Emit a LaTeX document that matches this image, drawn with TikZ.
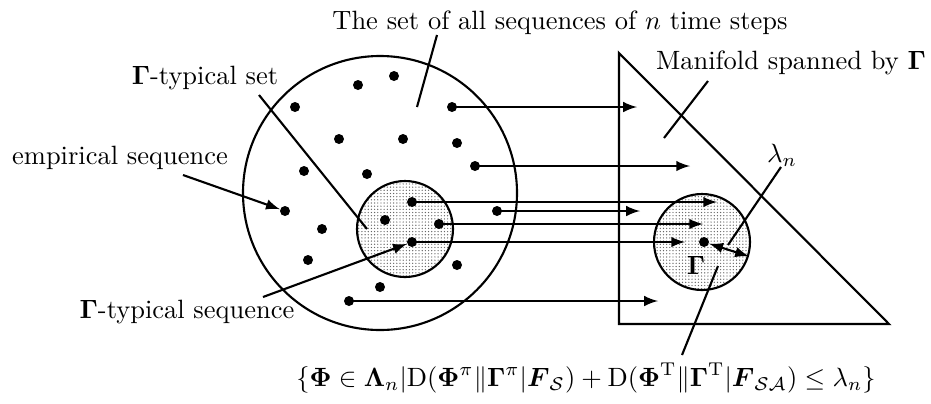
\documentclass[tikz,border=0pt]{standalone}
\usepackage{amsmath}
\usepackage{amssymb}
\usetikzlibrary{arrows, patterns.meta}
\def\px{0.378pt}
\tikzdeclarepattern{
    name=fineDots,
    type=uncolored,
    bounding box={(-0.6pt,-0.6pt) and (0.6pt,0.6pt)},
    tile size={(1.2pt,1.2pt)},
    code={\fill (0pt,0pt) circle (0.26pt);}
}
\tikzset{
    seqDot/.style={circle, fill=black, inner sep=0pt, minimum size=10*\px},
    seqSet/.style={circle, draw, thick, inner sep=0pt},
    typSet/.style={seqSet, pattern=fineDots, pattern color=black!60},
    setLabel/.style={inner sep=1pt, align=center},
    % Arrows
    mapArrow/.style={->, thick, >=latex},
    pointer/.style={thick}
}

\begin{document}
\begin{tikzpicture}[x=\px, y=-\px]
\useasboundingbox (0,0) rectangle (931,403);

% sets
\node[seqSet, minimum size=274*\px] (allSet) at (380,193) {};
\node[typSet, minimum size=96*\px] (typSetL) at (405,229) {};
\coordinate (mTop) at (619,53);
\coordinate (mLeft) at (619,324);
\coordinate (mRight) at (889,324);
\draw[thick] (mTop) -- (mLeft) -- (mRight) -- cycle;
\node[typSet, minimum size=96*\px] (typSetR) at (702,242) {};

% sequences
\foreach \name/\x/\y in {s1/295/107, s2/358/85, s3/394/76, s4/452/107, s5/339/139,
    s6/403/139, s7/457/143, s8/304/171, s9/367/174, s10/475/166, s11/285/211,
    s12/322/229, s13/308/260, s14/380/287, s15/349/301, s16/457/265, s17/497/211,
    t1/412/202, t2/385/220, t3/439/224, t4/412/242, gDot/704/242}
    \node[seqDot] (\name) at (\x,\y) {};

% mapping onto the manifold
\foreach \src/\x in {s4/637, s10/690, s17/640, s15/658, t1/717, t3/703, t4/685}
    \draw[mapArrow] (\src.center) -- (\x,0 |- \src.center);

% labels
\node[setLabel] (allLabel) at (560,23) {The set of all sequences of $n$ time steps};
\node[setLabel] (typSetLabel) at (205,78) {$\boldsymbol{\Gamma}$-typical set};
\node[setLabel] (empLabel) at (120,158) {empirical sequence};
\node[setLabel] (typSeqLabel) at (187,312) {$\boldsymbol{\Gamma}$-typical sequence};
\node[setLabel] (manLabel) at (791,63) {Manifold spanned by $\boldsymbol{\Gamma}$};
\node[setLabel] (lamLabel) at (782,155) {$\lambda_n$};
\node[setLabel] (gamLabel) at (696,265) {$\boldsymbol{\Gamma}$};
\node[setLabel] (ballLabel) at (586,378)
    {$\{\boldsymbol{\Phi}\in\boldsymbol{\Lambda}_n|\mathrm{D}(\boldsymbol{\Phi}^{\pi}\|\boldsymbol{\Gamma}^{\pi}|\boldsymbol{F}_{\mathcal{S}})+\mathrm{D}(\boldsymbol{\Phi}^{\mathrm{T}}\|\boldsymbol{\Gamma}^{\mathrm{T}}|\boldsymbol{F}_{\mathcal{S}\mathcal{A}})\le\lambda_n\}$};

% pointers
\coordinate (allTail) at (437,35);   \coordinate (allHead) at (417,107);
\coordinate (typTail) at (259,95);   \coordinate (typHead) at (367,229);
\coordinate (empTail) at (183,175);
\coordinate (seqTail) at (263,297);
\coordinate (manTail) at (708,81);   \coordinate (manHead) at (664,138);
\coordinate (lamTail) at (781,167);  \coordinate (lamHead) at (728,245);
\coordinate (ballTail) at (682,355); \coordinate (ballHead) at (718,266);
\draw[pointer] (allTail) -- (allHead);
\draw[pointer] (typTail) -- (typHead);
\draw[mapArrow] (empTail) -- (s11);
\draw[mapArrow] (seqTail) -- (t4);
\draw[pointer] (manTail) -- (manHead);
\draw[pointer] (lamTail) -- (lamHead);
\draw[pointer] (ballTail) -- (ballHead);
\draw[mapArrow, <->] (gDot) -- (typSetR.-17);
\end{tikzpicture}
\end{document}
